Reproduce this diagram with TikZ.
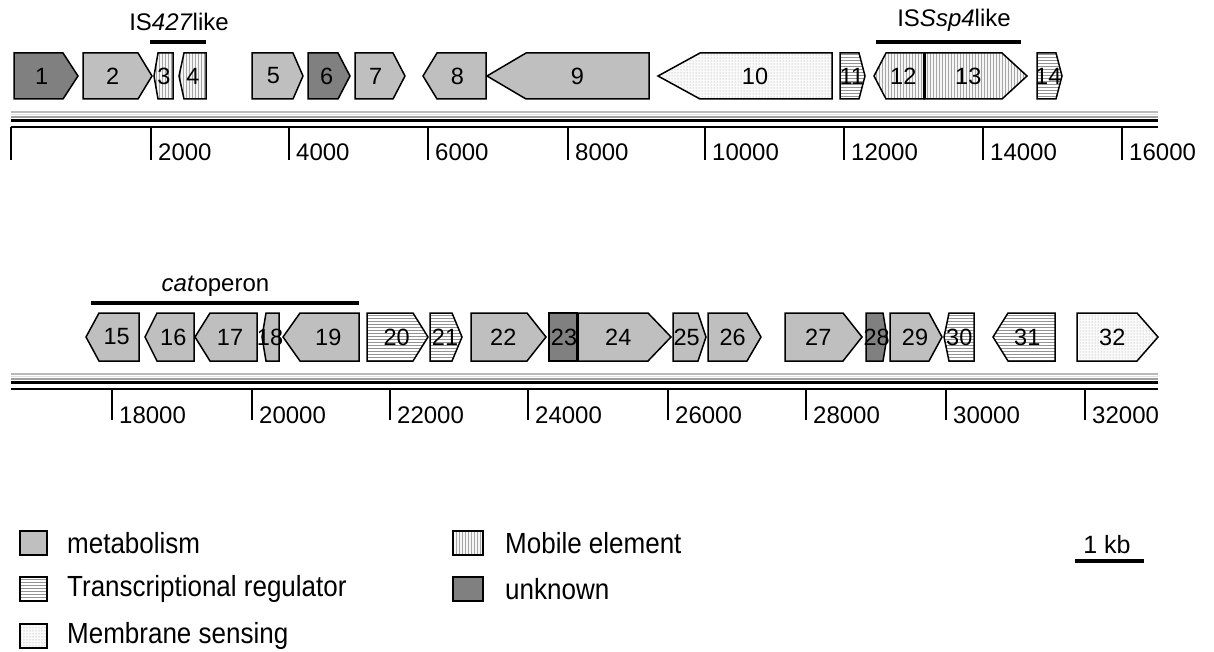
\documentclass[tikz,border=0pt]{standalone}
\usepackage{fontspec}
\setmainfont{Liberation Sans}
\usepackage{graphicx}
\usetikzlibrary{patterns}
\newcommand{\gene}[6]{%
  \draw[genebox,#4] (#1,\yt) -- (#2,\yt) -- (#3,\ym) -- (#2,\yb) -- (#1,\yb) -- cycle;
  \node[num] (g#5) at (#6,\ym) {#5};}
\newcommand{\lgtext}[1]{\scalebox{1}[1.12]{#1}}
\tikzset{
  genebox/.style={draw=black, line width=1.5pt, line join=miter},
  met/.style={fill=gray!50},
  unk/.style={fill=gray},
  mob/.style={preaction={fill=gray!8}, pattern=vertical lines, pattern color=gray!70},
  reg/.style={preaction={fill=white}, pattern=horizontal lines, pattern color=gray!85},
  mem/.style={preaction={fill=gray!4}, pattern=dots, pattern color=gray!75},
  num/.style={font=\fontsize{23.5}{26}\selectfont, inner sep=0pt},
  axlab/.style={font=\fontsize{24}{27}\selectfont, inner sep=0pt, anchor=west},
  toplab/.style={font=\fontsize{24}{27}\selectfont, inner sep=0pt},
  lglab/.style={font=\fontsize{26}{30}\selectfont, inner sep=0pt, anchor=west},
  tickline/.style={line width=1.8pt},
  axisline/.style={line width=2pt},
  bracket/.style={line width=3.5pt},
  legbox/.style={draw=black, line width=1.8pt},
}
\begin{document}
\begin{tikzpicture}[x=1pt, y=-1pt]
\useasboundingbox (0,0) rectangle (1214,652);

% ---------- top row ----------
\def\yt{53}\def\yb{99}\def\ym{76}
\gene{14}{63}{78}{unk}{1}{41.7}
\gene{83}{138}{152}{met}{2}{112.7}
\gene{173}{158}{154}{mob}{3}{164}
\gene{206}{184}{179}{mob}{4}{193}
\gene{252}{293}{303}{met}{5}{273.3}
\gene{308}{338}{350}{unk}{6}{326.7}
\gene{355}{393}{405}{met}{7}{375.7}
\gene{486}{437}{423}{met}{8}{457.3}
\gene{649}{526}{487}{met}{9}{577.3}
\gene{832}{700}{658}{mem}{10}{755}
\gene{840}{859}{865}{reg}{11}{851.7}
\gene{924}{886}{874}{mob}{12}{903.3}
\gene{924}{1002}{1027}{mob}{13}{968.3}
\gene{1037}{1056}{1062}{reg}{14}{1048.3}
\draw[line width=3pt] (924,53) -- (924,99);

% top labels
\node[toplab] (is427) at (179,22) {IS\textit{427}like};
\draw[bracket] (150,42) -- (206,42);
\node[toplab] (isssp4) at (954,20) {IS\textit{Ssp4}like};
\draw[bracket] (876,42) -- (1021,42);

% top chromosome band and axis
\draw[gray!55, line width=2pt] (11,112) -- (1158,112);
\draw[gray!25, line width=1.5pt] (11,114.5) -- (1158,114.5);
\draw[gray!75, line width=2pt] (11,117) -- (1158,117);
\draw[black, line width=2.5pt] (11,120.5) -- (1158,120.5);
\draw[axisline] (11,127) -- (1158,127);
\draw[tickline] (11,127) -- (11,160);
\foreach \x/\l in {151/2000, 289/4000, 428/6000, 568/8000, 705/10000, 844/12000, 983/14000, 1122/16000}{
  \draw[tickline] (\x,127) -- (\x,160);
  \node[axlab] (t\l) at (\x+7,152) {\l};
}

% ---------- bottom row ----------
\def\yt{313}\def\yb{361}\def\ym{337}
\gene{139}{99}{86}{met}{15}{116.7}
\gene{194}{157}{145}{met}{16}{173.3}
\gene{257}{210}{195}{met}{17}{230}
\gene{279}{266}{262}{met}{18}{270}
\gene{359}{300}{283}{met}{19}{328.3}
\gene{367}{413}{428}{reg}{20}{396.7}
\gene{430}{452}{462}{reg}{21}{445}
\gene{471}{527}{546}{met}{22}{503.3}
\gene{549}{577}{577}{unk}{23}{564}
\gene{578}{648}{671}{met}{24}{618.3}
\gene{673}{698}{706}{met}{25}{686.7}
\gene{708}{747}{761}{met}{26}{732.7}
\gene{785}{843}{862}{met}{27}{818.3}
\gene{866}{883}{887}{unk}{28}{876.7}
\gene{890}{929}{942}{met}{29}{915}
\gene{974}{949}{944}{reg}{30}{959.3}
\gene{1055}{1008}{993}{reg}{31}{1027.3}
\gene{1077}{1137}{1158}{mem}{32}{1112.3}

\node[toplab] (catop) at (215.5,286) {\textit{cat}operon};
\draw[bracket] (91,303) -- (359,303);

% bottom chromosome band and axis
\draw[gray!55, line width=2pt] (11,374) -- (1158,374);
\draw[gray!25, line width=1.5pt] (11,376.5) -- (1158,376.5);
\draw[gray!75, line width=2pt] (11,379) -- (1158,379);
\draw[black, line width=2.5pt] (11,382.5) -- (1158,382.5);
\draw[axisline] (11,389) -- (1158,389);
\foreach \x/\l in {112/18000, 252/20000, 390/22000, 528/24000, 668/26000, 806/28000, 946/30000, 1085/32000}{
  \draw[tickline] (\x,389) -- (\x,420);
  \node[axlab] (t\l) at (\x+7,415) {\l};
}

% ---------- legend ----------
\draw[legbox, met] (20,531) rectangle (47,555);
\node[lglab] (lmet) at (67,543) {\lgtext{metabolism}};
\draw[legbox, reg] (20,577) rectangle (47,601);
\node[lglab] (lreg) at (67,589) {\lgtext{Transcriptional regulator}};
\draw[legbox, mem] (20,624) rectangle (47,648);
\node[lglab] (lmem) at (67,636) {\lgtext{Membrane sensing}};
\draw[legbox, mob] (453,531) rectangle (483,555);
\node[lglab] (lmob) at (505,543) {\lgtext{Mobile element}};
\draw[legbox, unk] (453,577) rectangle (483,601);
\node[lglab] (lunk) at (505,589) {\lgtext{unknown}};

% scale bar
\node[toplab, font=\fontsize{25}{28}\selectfont] (kb) at (1107,545) {1 kb};
\draw[line width=4.5pt] (1075,561) -- (1144,561);
\end{tikzpicture}
\end{document}
